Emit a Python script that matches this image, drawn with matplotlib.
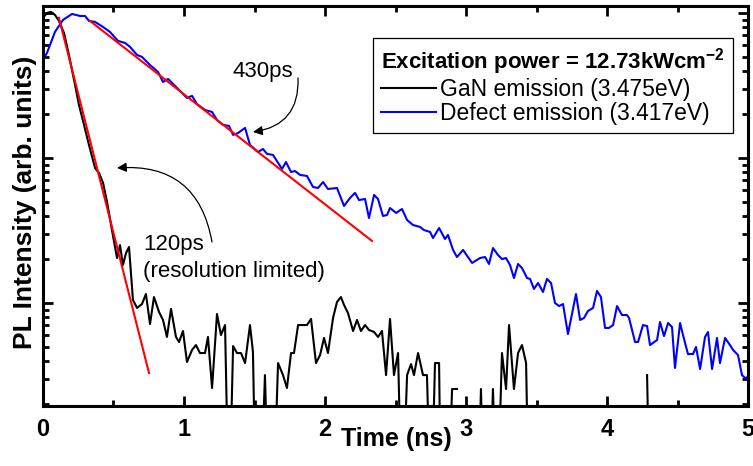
import numpy as np
import matplotlib
matplotlib.use("Agg")
import matplotlib.pyplot as plt

plt.rcParams['font.family'] = ['Liberation Sans', 'DejaVu Sans']
plt.rcParams['mathtext.fontset'] = 'custom'
plt.rcParams['mathtext.rm'] = 'Liberation Sans'
plt.rcParams['mathtext.bf'] = 'Liberation Sans:bold'

# GaN emission (3.475eV): time (ns), log10 of normalised intensity
# (-3.5 = below the axis, nan = no signal)
gan_t = [0.000, 0.028, 0.057, 0.085, 0.113, 0.149, 0.184, 0.220, 0.255, 0.291,
         0.326, 0.369, 0.397, 0.426, 0.454, 0.489, 0.525, 0.546, 0.567, 0.589,
         0.610, 0.638, 0.667, 0.702, 0.730, 0.759, 0.787, 0.823, 0.851, 0.879,
         0.908, 0.943, 0.965, 0.993, 1.021, 1.057, 1.085, 1.113, 1.149, 1.170,
         1.199, 1.234, 1.262, 1.291, 1.319, 1.348, 1.376, 1.404, 1.433, 1.468,
         1.489, 1.511, 1.539, 1.574, 1.603, 1.631, 1.667, 1.702, 1.730, 1.759,
         1.780, 1.809, 1.844, 1.872, 1.901, 1.936, 1.965, 1.993, 2.021, 2.057,
         2.085, 2.113, 2.135, 2.163, 2.199, 2.227, 2.255, 2.284, 2.312, 2.348,
         2.376, 2.404, 2.433, 2.461, 2.489, 2.518, 2.546, 2.582, 2.610, 2.631,
         2.660, 2.695, 2.723, 2.752, 2.780, 2.809, 2.823, 2.872, 2.901, 2.936,
         2.965, 3.000, 3.050, 3.080, 3.106, 3.128, 3.163, 3.191, 3.220, 3.255,
         3.284, 3.305, 3.340, 3.369, 3.397, 3.426, 3.447, 3.600, 3.900, 4.200,
         4.255, 4.284, 4.305, 4.600, 5.000]
gan_log = [-0.034, 0.000, 0.007, -0.014, -0.055, -0.138, -0.290, -0.462, -0.634, -0.772,
           -0.910, -1.069, -1.103, -1.172, -1.303, -1.497, -1.690, -1.600, -1.738, -1.655,
           -1.614, -1.979, -2.034, -2.007, -1.938, -2.145, -1.959, -2.062, -2.117, -2.234,
           -2.041, -2.234, -2.269, -2.193, -2.407, -2.324, -2.290, -2.345, -2.345, -2.234,
           -2.586, -2.076, -2.221, -2.152, -3.5, -2.297, -2.345, -2.345, -2.414, -2.152,
           -2.338, -3.5, -3.5, -2.497, -3.5, -3.5, -2.414, -2.497, -2.586, -2.345,
           -2.345, -2.152, -2.152, -2.152, -2.110, -2.414, -2.359, -2.241, -2.345, -2.103,
           -1.993, -1.959, -2.014, -2.069, -2.193, -2.117, -2.193, -2.152, -2.186, -2.200,
           -2.234, -2.193, -2.497, -2.110, -2.497, -2.345, -3.5, -2.497, -2.421, -2.497,
           -2.345, -2.497, -2.497, -3.5, -2.414, -2.414, -3.5, -3.5, -2.593, -2.593,
           np.nan, -3.5, -3.5, -3.5, -2.593, -3.5, -3.5, -2.593, -3.5, -2.345,
           -2.593, -2.152, -2.593, -2.345, -2.290, -2.414, -3.5, -3.5, -3.5, -3.5,
           np.nan, -2.497, -3.5, -3.5, -3.5]

# Defect emission (3.417eV)
defect_t = [0.000, 0.028, 0.085, 0.142, 0.206, 0.262, 0.298, 0.326, 0.369, 0.426,
            0.475, 0.532, 0.582, 0.617, 0.667, 0.702, 0.759, 0.816, 0.851, 0.887,
            0.950, 1.021, 1.057, 1.092, 1.149, 1.199, 1.234, 1.277, 1.319, 1.348,
            1.383, 1.433, 1.468, 1.525, 1.560, 1.589, 1.631, 1.695, 1.723, 1.759,
            1.787, 1.823, 1.872, 1.915, 1.950, 1.986, 2.021, 2.085, 2.135, 2.177,
            2.213, 2.241, 2.284, 2.312, 2.348, 2.376, 2.411, 2.440, 2.461, 2.504,
            2.546, 2.582, 2.624, 2.674, 2.702, 2.745, 2.766, 2.809, 2.851, 2.872,
            2.908, 2.936, 2.979, 3.043, 3.099, 3.135, 3.163, 3.191, 3.227, 3.255,
            3.284, 3.312, 3.340, 3.369, 3.397, 3.433, 3.454, 3.482, 3.511, 3.546,
            3.574, 3.603, 3.631, 3.660, 3.688, 3.723, 3.780, 3.809, 3.837, 3.865,
            3.901, 3.929, 3.957, 3.986, 4.014, 4.043, 4.071, 4.106, 4.142, 4.156,
            4.199, 4.220, 4.255, 4.284, 4.305, 4.355, 4.376, 4.404, 4.433, 4.461,
            4.482, 4.518, 4.539, 4.574, 4.610, 4.631, 4.660, 4.695, 4.716, 4.745,
            4.780, 4.801, 4.837, 4.872, 4.894, 4.929, 4.957, 4.979, 5.000]
defect_log = [-0.324, -0.276, -0.131, -0.048, -0.007, -0.021, -0.021, -0.055, -0.062, -0.097,
              -0.131, -0.193, -0.207, -0.234, -0.290, -0.303, -0.359, -0.407, -0.476, -0.455,
              -0.517, -0.586, -0.572, -0.628, -0.669, -0.683, -0.738, -0.772, -0.779, -0.841,
              -0.828, -0.793, -0.910, -0.959, -0.938, -0.972, -0.979, -1.076, -1.028, -1.097,
              -1.090, -1.117, -1.124, -1.200, -1.207, -1.166, -1.214, -1.207, -1.331, -1.276,
              -1.241, -1.290, -1.283, -1.414, -1.255, -1.283, -1.400, -1.393, -1.345, -1.379,
              -1.352, -1.428, -1.462, -1.476, -1.497, -1.510, -1.552, -1.483, -1.559, -1.531,
              -1.634, -1.683, -1.634, -1.724, -1.690, -1.683, -1.731, -1.621, -1.669, -1.697,
              -1.690, -1.738, -1.828, -1.731, -1.759, -1.828, -1.834, -1.903, -1.862, -1.924,
              -1.834, -1.862, -2.000, -2.021, -2.007, -2.214, -1.938, -2.117, -2.103, -2.055,
              -2.034, -1.917, -1.959, -2.172, -2.172, -2.152, -2.021, -2.083, -2.083, -2.103,
              -2.269, -2.269, -2.152, -2.159, -2.290, -2.255, -2.131, -2.228, -2.138, -2.166,
              -2.448, -2.138, -2.221, -2.352, -2.352, -2.303, -2.455, -2.234, -2.200, -2.455,
              -2.241, -2.414, -2.241, -2.290, -2.324, -2.359, -2.497, -2.517, -2.510]

# single-exponential fits (end points)
fit_slow_t = [0.333, 2.333]
fit_slow_log = [-0.055, -1.572]
fit_fast_t = [0.113, 0.752]
fit_fast_log = [-0.034, -2.483]

fig = plt.figure(figsize=(7.53, 4.66), dpi=100)
ax = fig.add_axes([0.0571, 0.1288, 0.9363, 0.8584])

ax.plot(gan_t, 10 ** np.array(gan_log), color='black', lw=1.5,
        label='GaN emission (3.475eV)')
ax.plot(defect_t, 10 ** np.array(defect_log), color='#0000ff', lw=1.5,
        label='Defect emission (3.417eV)')
ax.plot(fit_slow_t, 10 ** np.array(fit_slow_log), color='#ff0000', lw=1.5)
ax.plot(fit_fast_t, 10 ** np.array(fit_fast_log), color='#ff0000', lw=1.5)

ax.set_yscale('log')
ax.set_xlim(0, 5)
ax.set_ylim(10 ** -2.71, 10 ** 0.048)
ax.set_xticks(range(6))
ax.set_xticks(np.arange(0.5, 5, 1.0), minor=True)
ax.yaxis.set_major_formatter(matplotlib.ticker.NullFormatter())
ax.yaxis.set_minor_formatter(matplotlib.ticker.NullFormatter())

ax.tick_params(which='both', direction='in', top=True, right=True, width=2)
ax.tick_params(which='major', length=7, labelsize=17, pad=9)
ax.tick_params(which='minor', length=4.5)
for lab in ax.get_xticklabels():
    lab.set_fontweight('bold')
for sp in ax.spines.values():
    sp.set_linewidth(2.2)

ax.set_xlabel('Time (ns)', fontsize=18, fontweight='bold', va='top')
ax.xaxis.set_label_coords(0.5007, -0.053)
ax.set_ylabel('PL Intensity (arb. units)', fontsize=19, fontweight='bold')
ax.yaxis.set_label_coords(-0.008, 0.51)

leg = ax.legend(loc='upper right', bbox_to_anchor=(0.978, 0.92), fontsize=16.5,
                title=r'Excitation power = 12.73kWcm$\mathbf{^{-2}}$',
                title_fontproperties={'size': 16, 'weight': 'bold'},
                alignment='left',
                fancybox=False, framealpha=1, edgecolor='black',
                handlelength=2.4, handletextpad=0.2, labelspacing=0.05,
                borderpad=0.35, borderaxespad=0)
leg.get_frame().set_linewidth(0.9)

ax.text(0.312, 0.8225, '430ps', transform=ax.transAxes, fontsize=16,
        ha='center', va='baseline')
ax.text(0.1418, 0.39, '120ps', transform=ax.transAxes, fontsize=16,
        ha='left', va='baseline')
ax.text(0.1418, 0.3225, '(resolution limited)', transform=ax.transAxes,
        fontsize=16, ha='left', va='baseline')

ax.annotate('', xy=(0.2979, 0.685), xytext=(0.3617, 0.82),
            xycoords='axes fraction', textcoords='axes fraction',
            arrowprops=dict(arrowstyle='-|>', color='black', lw=0.9,
                            connectionstyle='arc3,rad=-0.45',
                            shrinkA=0, shrinkB=0, mutation_scale=14))
ax.annotate('', xy=(0.105, 0.595), xytext=(0.2397, 0.41),
            xycoords='axes fraction', textcoords='axes fraction',
            arrowprops=dict(arrowstyle='-|>', color='black', lw=0.9,
                            connectionstyle='arc3,rad=0.45',
                            shrinkA=0, shrinkB=0, mutation_scale=14))

fig.savefig('out.png', dpi=100)
